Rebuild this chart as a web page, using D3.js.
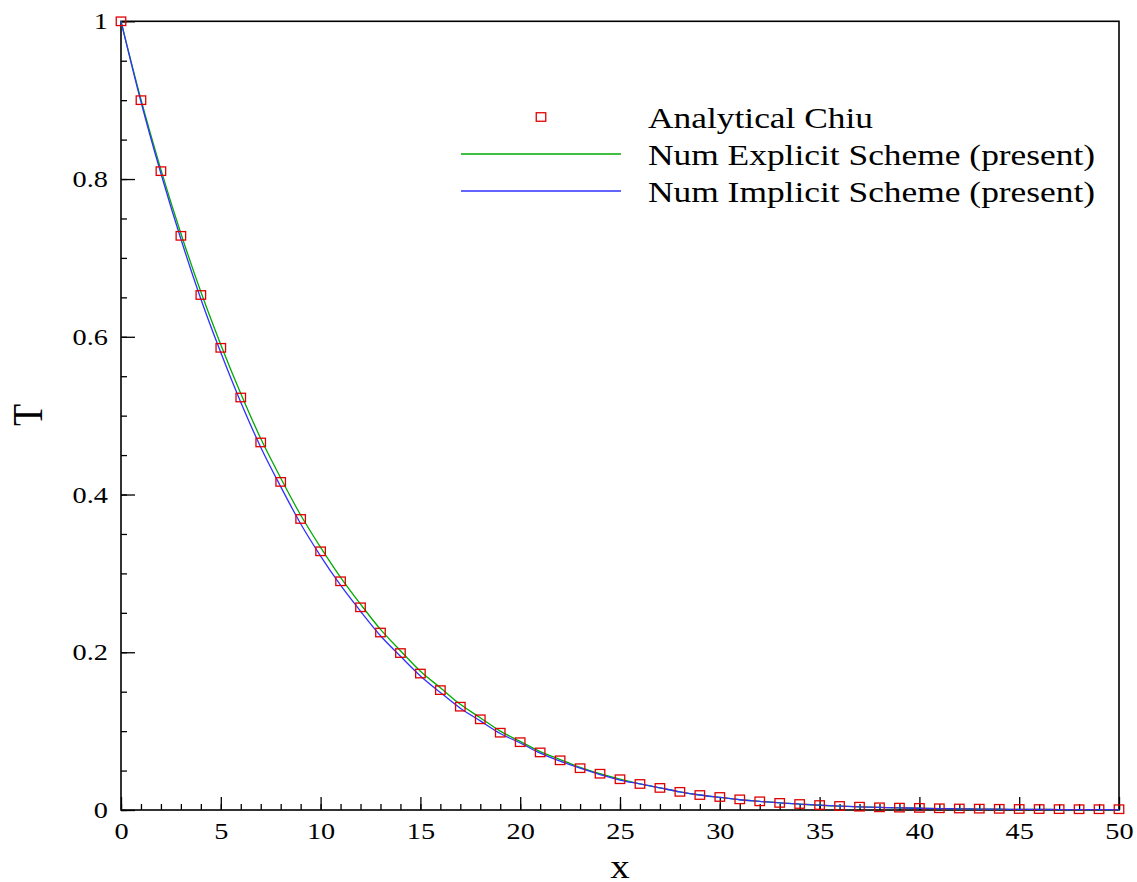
<!DOCTYPE html>
<html>
<head>
<meta charset="utf-8">
<script src="https://cdn.jsdelivr.net/npm/d3@7"></script>
<style>
  body { margin: 0; background: #fff; }
  svg { display: block; font-family: "Liberation Serif", "Times New Roman", serif; }
</style>
</head>
<body>
<svg id="chart" width="1137" height="882"></svg>
<script>
// values
const xs = d3.range(0, 51)
const analytical = [1.000, 0.900, 0.810, 0.728, 0.653, 0.586, 0.523, 0.466, 0.416, 0.369,
    0.328, 0.290, 0.257, 0.225, 0.199, 0.173, 0.152, 0.131, 0.115, 0.098,
    0.086, 0.073, 0.063, 0.053, 0.046, 0.039, 0.033, 0.028, 0.023, 0.019,
    0.0165, 0.0135, 0.011, 0.009, 0.0076, 0.0063, 0.0051, 0.0042, 0.0034, 0.003,
    0.0027, 0.0022, 0.0019, 0.0017, 0.0015, 0.0013, 0.0012, 0.0011, 0.001, 0.001, 0.001]
const explicit = [1.000, 0.901, 0.812, 0.731, 0.657, 0.590, 0.528, 0.471, 0.421, 0.374,
    0.333, 0.295, 0.261, 0.229, 0.202, 0.176, 0.155, 0.134, 0.117, 0.100,
    0.087, 0.074, 0.064, 0.054, 0.046, 0.039, 0.033, 0.028, 0.023, 0.019,
    0.016, 0.013, 0.011, 0.009, 0.0075, 0.006, 0.005, 0.004, 0.0033, 0.0027,
    0.0022, 0.0018, 0.0015, 0.0012, 0.001, 0.0008, 0.0007, 0.0006, 0.0005, 0.0004, 0.0003]
const implicit = [1.000, 0.898, 0.807, 0.724, 0.648, 0.580, 0.517, 0.460, 0.410, 0.363,
    0.322, 0.285, 0.252, 0.221, 0.195, 0.170, 0.149, 0.129, 0.113, 0.097,
    0.085, 0.072, 0.062, 0.053, 0.045, 0.038, 0.033, 0.028, 0.023, 0.019,
    0.016, 0.013, 0.011, 0.009, 0.0075, 0.0062, 0.005, 0.004, 0.0033, 0.0027,
    0.0022, 0.0018, 0.0015, 0.0012, 0.001, 0.0008, 0.0007, 0.0006, 0.0005, 0.0004, 0.0003]

const xTicks = [0, 5, 10, 15, 20, 25, 30, 35, 40, 45, 50]
const yTicks = [0, 0.2, 0.4, 0.6, 0.8, 1]
const legendLabels = ['Analytical Chiu', 'Num Explicit Scheme (present)', 'Num Implicit Scheme (present)']

const stretch = 1.18   // the picture is a bit wider than tall, text included

const svg = d3.select('#chart')
svg.append('rect').attr('width', 1137).attr('height', 882).style('fill', '#fff')

const plotLeft = 121, plotRight = 1119, plotTop = 21.3, plotBottom = 810

const xScale = d3.scaleLinear().domain([0, 50]).range([plotLeft, plotRight])
const yScale = d3.scaleLinear().domain([0, 1]).range([plotBottom, plotTop])

function stretchText(sel) {
    sel.selectAll('text').each(function () {
        const t = d3.select(this)
        const x = +t.attr('x') || 0
        t.attr('x', 0).attr('transform', `translate(${x},0) scale(${stretch},1)`)
    })
}

// minor ticks
svg.append('g').attr('transform', `translate(0,${plotBottom})`)
    .call(d3.axisBottom(xScale).tickValues(d3.range(0, 51, 1)).tickSize(-6).tickFormat(''))
    .call(g => g.select('.domain').remove())
    .selectAll('line').style('stroke', '#000').style('stroke-width', 1.3)
svg.append('g').attr('transform', `translate(${plotLeft},0)`)
    .call(d3.axisLeft(yScale).tickValues(d3.range(0, 1.001, 0.05)).tickSize(-6).tickFormat(''))
    .call(g => g.select('.domain').remove())
    .selectAll('line').style('stroke', '#000').style('stroke-width', 1.3)

// major ticks with labels
const xAxis = svg.append('g').attr('transform', `translate(0,${plotBottom})`)
    .call(d3.axisBottom(xScale).tickValues(xTicks).tickSize(-13).tickPadding(12).tickFormat(d3.format('d')))
xAxis.select('.domain').remove()
xAxis.selectAll('line').style('stroke', '#000').style('stroke-width', 1.3)
xAxis.selectAll('text').style('font-size', '24px').style('fill', '#000')
    .style('font-family', '"Liberation Serif", serif')
stretchText(xAxis)

const yAxis = svg.append('g').attr('transform', `translate(${plotLeft},0)`)
    .call(d3.axisLeft(yScale).tickValues(yTicks).tickSize(-14).tickPadding(13).tickFormat(d3.format('~g')))
yAxis.select('.domain').remove()
yAxis.selectAll('line').style('stroke', '#000').style('stroke-width', 1.3)
yAxis.selectAll('text').style('font-size', '24px').style('fill', '#000')
    .style('font-family', '"Liberation Serif", serif')
stretchText(yAxis)

// frame
svg.append('rect').attr('x', plotLeft).attr('y', plotTop)
    .attr('width', plotRight - plotLeft).attr('height', plotBottom - plotTop)
    .style('fill', 'none').style('stroke', '#000').style('stroke-width', 1.6)

// curves
const line = d3.line().x((d, i) => xScale(xs[i])).y(d => yScale(d)).curve(d3.curveMonotoneX)
svg.append('path').datum(explicit).attr('d', line)
    .style('fill', 'none').style('stroke', '#00aa00').style('stroke-width', 1.3)
svg.append('path').datum(implicit).attr('d', line)
    .style('fill', 'none').style('stroke', '#3030ff').style('stroke-width', 1.3)

// analytical squares
const sw = 9.5, sh = 8.5
svg.selectAll('.analyticalPoint').data(analytical).enter().append('rect')
    .attr('x', (d, i) => xScale(xs[i]) - sw / 2).attr('y', d => yScale(d) - sh / 2)
    .attr('width', sw).attr('height', sh)
    .style('fill', 'none').style('stroke', '#e00000').style('stroke-width', 1.3).attr('class', 'analyticalPoint')

// legend
const legend = svg.append('g')
const legendY = [117, 154, 191]
legend.append('rect').attr('x', 541 - sw / 2).attr('y', legendY[0] - sh / 2).attr('width', sw).attr('height', sh)
    .style('fill', 'none').style('stroke', '#e00000').style('stroke-width', 1.3)
legend.append('line').attr('x1', 461).attr('x2', 621).attr('y1', legendY[1]).attr('y2', legendY[1])
    .style('stroke', '#00aa00').style('stroke-width', 1.3)
legend.append('line').attr('x1', 461).attr('x2', 621).attr('y1', legendY[2]).attr('y2', legendY[2])
    .style('stroke', '#3030ff').style('stroke-width', 1.3)
legend.selectAll('.legendText').data(legendLabels).enter().append('text')
    .attr('transform', (d, i) => `translate(648,${legendY[i] + 10.5}) scale(${stretch},1)`)
    .style('font-size', '30px').style('fill', '#000')
    .text(d => d)

// axis titles
svg.append('text').attr('transform', `translate(620,878) scale(${stretch},1)`)
    .attr('text-anchor', 'middle').style('font-size', '33px').text('x')
svg.append('text').attr('transform', `translate(42,415) scale(${stretch},1) rotate(-90)`)
    .attr('text-anchor', 'middle').style('font-size', '36px').text('T')
</script>
</body>
</html>
